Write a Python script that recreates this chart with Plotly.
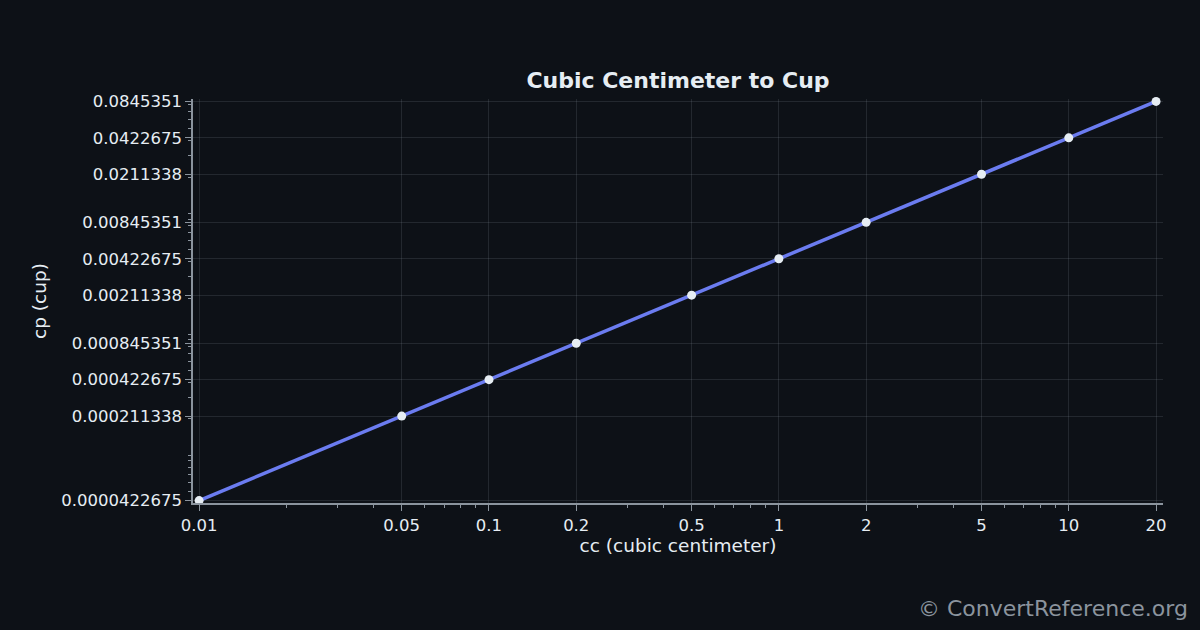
import plotly.graph_objects as go

# cubic centimeter -> cup
cc_values = [0.01, 0.05, 0.1, 0.2, 0.5, 1, 2, 5, 10, 20]
cup_values = [0.0000422675, 0.000211338, 0.000422675, 0.000845351, 0.00211338,
              0.00422675, 0.00845351, 0.0211338, 0.0422675, 0.0845351]

x_tick_labels = ["0.01", "0.05", "0.1", "0.2", "0.5", "1", "2", "5", "10", "20"]
y_tick_labels = ["0.0000422675", "0.000211338", "0.000422675", "0.000845351", "0.00211338",
                 "0.00422675", "0.00845351", "0.0211338", "0.0422675", "0.0845351"]

bg = "#0d1117"
axis_col = "#8b949e"
grid_col = "rgba(139,148,158,0.18)"
text_col = "#e6edf3"

fig = go.Figure()
fig.add_trace(go.Scatter(
    x=cc_values, y=cup_values, mode="lines+markers",
    line=dict(color="#6b7cf0", width=3.5),
    marker=dict(color="#e6edf3", size=9),
    cliponaxis=False,
    showlegend=False,
))

fig.update_layout(
    width=1200, height=630,
    paper_bgcolor=bg, plot_bgcolor=bg,
    font=dict(family="DejaVu Sans", size=16.5, color=text_col),
    margin=dict(l=193, r=37, t=99, b=127),
    title=dict(text="<b>Cubic Centimeter to Cup</b>", font=dict(size=22, color=text_col),
               x=0.5, xref="paper", xanchor="center", y=1 - 80 / 630, yanchor="middle"),
)

fig.update_xaxes(
    type="log", range=[-2.021, 1.325],
    tickvals=cc_values, ticktext=x_tick_labels,
    showline=True, linecolor=axis_col, linewidth=1.5,
    ticks="outside", ticklen=6, tickcolor=axis_col, tickwidth=1.2,
    showgrid=True, gridcolor=grid_col, gridwidth=1,
    zeroline=False,
    minor=dict(ticks="outside", ticklen=3, tickcolor=axis_col, dtick="D1", showgrid=False),
    title=dict(text="cc (cubic centimeter)", font=dict(size=18.5), standoff=6),
)
fig.update_yaxes(
    type="log", range=[-4.394, -1.053],
    tickvals=cup_values, ticktext=y_tick_labels,
    showline=True, linecolor=axis_col, linewidth=1.5,
    ticks="outside", ticklen=6, tickcolor=axis_col, tickwidth=1.2,
    showgrid=True, gridcolor=grid_col, gridwidth=1,
    zeroline=False,
    minor=dict(ticks="outside", ticklen=3, tickcolor=axis_col, dtick="D1", showgrid=False),
    title=dict(text="cp (cup)", font=dict(size=18.5), standoff=10),
)

fig.add_annotation(
    text="© ConvertReference.org", xref="paper", yref="paper",
    x=1.028, y=-0.261, xanchor="right", yanchor="middle",
    showarrow=False, font=dict(size=22, color="#8b949e"),
)

fig.write_html("out.html", config={"displayModeBar": False},
               post_script="document.body.style.margin='0';")
